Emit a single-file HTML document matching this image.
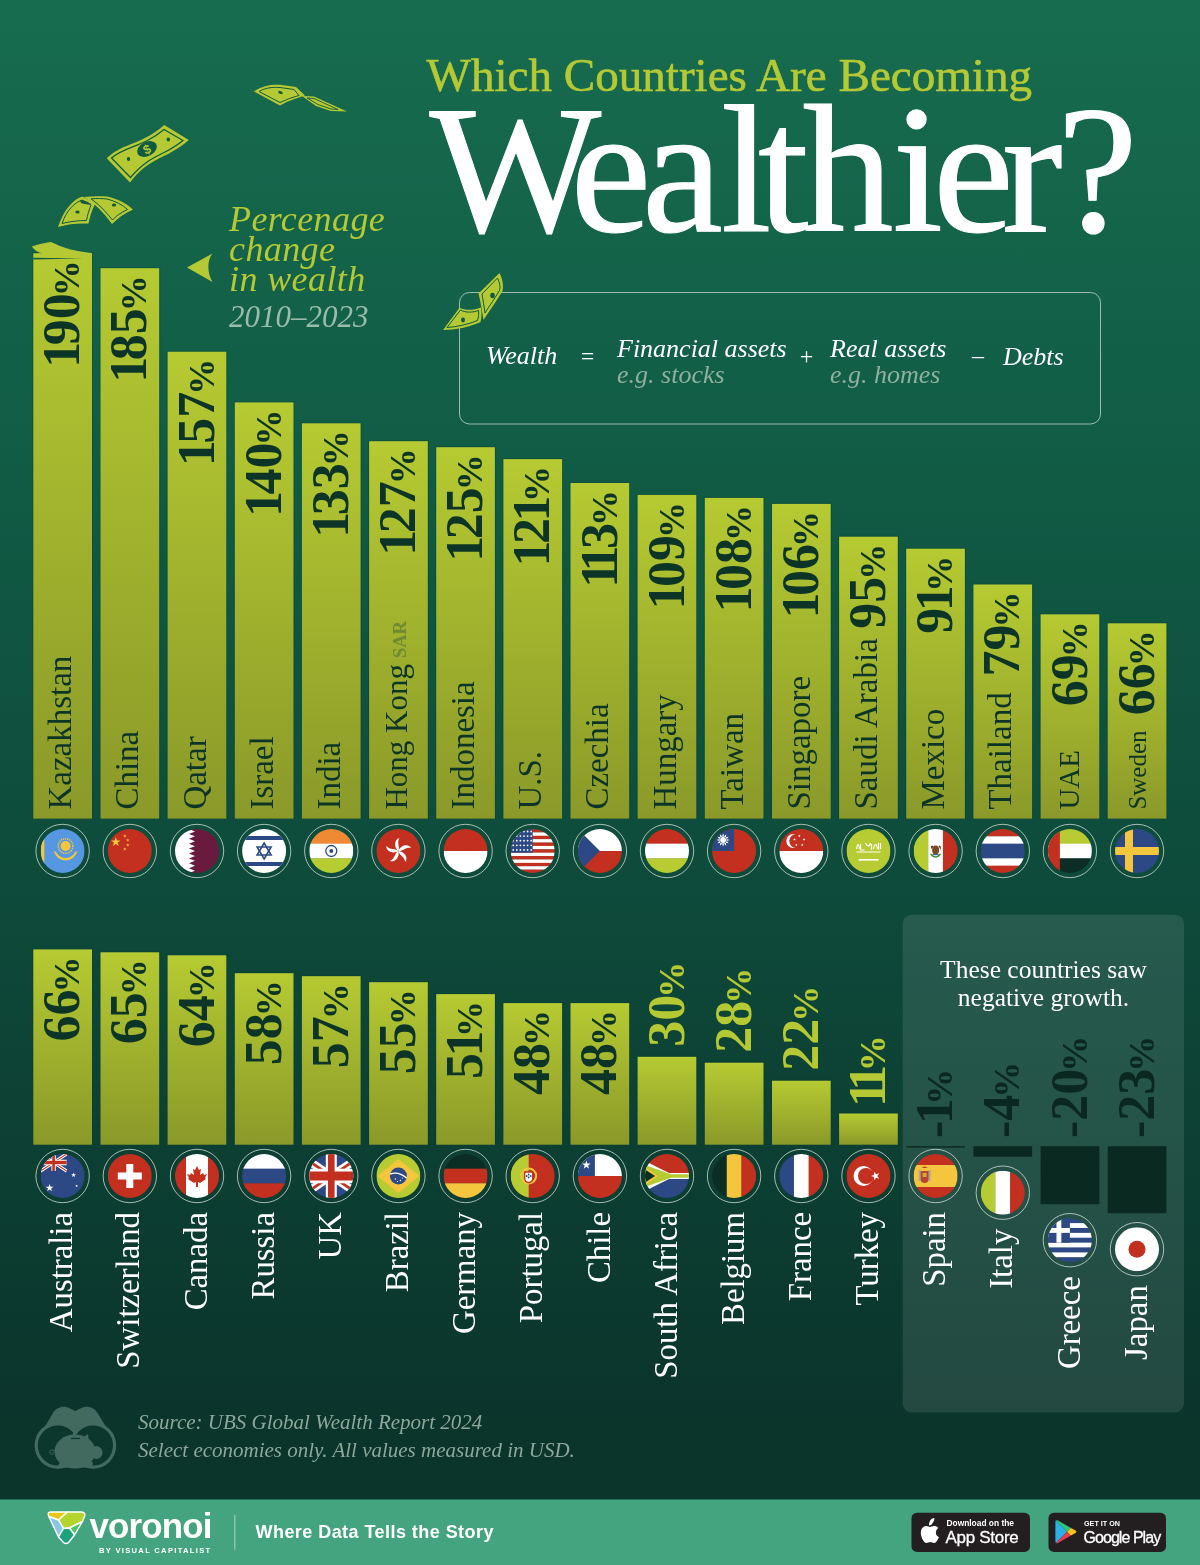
<!DOCTYPE html>
<html><head><meta charset="utf-8"><style>
html,body{margin:0;padding:0;width:1200px;height:1565px;overflow:hidden;background:#0e4b3b}
#root{position:relative;width:1200px;height:1565px}
svg{position:absolute;left:0;top:0}
.ser{font-family:"Liberation Serif",serif}
</style></head><body><div id="root">
<svg width="1200" height="1565" viewBox="0 0 1200 1565">
<rect x="0" y="0" width="1200" height="1500" fill="url(#bg)"/>
<defs>
<clipPath id="fc"><circle r="22"/></clipPath>
<linearGradient id="bar" x1="0" y1="0" x2="0" y2="1"><stop offset="0" stop-color="#b6ca32"/><stop offset="1" stop-color="#8a9929"/></linearGradient>
<linearGradient id="bg" x1="0" y1="0" x2="0" y2="1"><stop offset="0" stop-color="#176c4f"/><stop offset="0.3" stop-color="#115c45"/><stop offset="0.58" stop-color="#0e4b3b"/><stop offset="0.95" stop-color="#0b342b"/></linearGradient>
</defs>
<rect x="902.7" y="914.7" width="281.3" height="497.8" rx="9" fill="#ffffff" fill-opacity="0.1"/><text x="1043.5" y="978" text-anchor="middle" font-family="Liberation Serif, serif" font-size="25.5" fill="#fff">These countries saw</text><text x="1043.5" y="1006" text-anchor="middle" font-family="Liberation Serif, serif" font-size="25.5" fill="#fff">negative growth.</text>
<rect x="32.3" y="252.2" width="60.7" height="566.4" fill="#06402f" fill-opacity="0.35"/>
<rect x="33.3" y="253.2" width="58.7" height="565.4" fill="url(#bar)"/>
<text x="71.3" y="809.6" transform="rotate(-90 71.3 809.6)" text-anchor="start" font-family="Liberation Serif, serif" font-size="33" fill="#0c3427">Kazakhstan</text>
<text x="79.3" y="260.2" dx="0 -3.5 0" transform="rotate(-90 79.3 260.2)" text-anchor="end" font-family="Liberation Serif, serif" font-weight="bold" font-size="52" fill="#0c3427">190<tspan font-size="36" dx="-3">%</tspan></text>
<g transform="translate(62.6,851.0)"><circle r="26.7" fill="none" stroke="#d8e4dc" stroke-opacity="0.75" stroke-width="1"/><g clip-path="url(#fc)"><rect x="-22" y="-22" width="44" height="44" fill="#5597e0"/><rect x="-21.5" y="-22" width="3.2" height="44" fill="#f4c63d"/><circle cx="3" cy="-5" r="5" fill="#f4c63d"/><circle cx="3" cy="-5" r="7.3" fill="none" stroke="#f4c63d" stroke-width="1.6" stroke-dasharray="1.2 0.9"/><path d="M-9,0 Q-6,9 3,9.5 Q12,9 15,0 L12.5,1 Q10,6.5 3,7 Q-4,6.5 -6.5,1 Z" fill="#f4c63d"/></g></g>
<rect x="99.5" y="267.2" width="60.7" height="551.4" fill="#06402f" fill-opacity="0.35"/>
<rect x="100.5" y="268.2" width="58.7" height="550.4" fill="url(#bar)"/>
<text x="138.4" y="809.6" transform="rotate(-90 138.4 809.6)" text-anchor="start" font-family="Liberation Serif, serif" font-size="33" fill="#0c3427">China</text>
<text x="146.4" y="275.2" dx="0 -3.5 0" transform="rotate(-90 146.4 275.2)" text-anchor="end" font-family="Liberation Serif, serif" font-weight="bold" font-size="52" fill="#0c3427">185<tspan font-size="36" dx="-3">%</tspan></text>
<g transform="translate(129.8,851.0)"><circle r="26.7" fill="none" stroke="#d8e4dc" stroke-opacity="0.75" stroke-width="1"/><g clip-path="url(#fc)"><rect x="-22" y="-22" width="44" height="44" fill="#c4301f"/><polygon points="-14.00,-14.00 -12.82,-10.62 -9.24,-10.55 -12.10,-8.38 -11.06,-4.95 -14.00,-7.00 -16.94,-4.95 -15.90,-8.38 -18.76,-10.55 -15.18,-10.62" fill="#f4c63d"/><polygon points="-5.00,-16.80 -4.58,-15.58 -3.29,-15.56 -4.32,-14.78 -3.94,-13.54 -5.00,-14.28 -6.06,-13.54 -5.68,-14.78 -6.71,-15.56 -5.42,-15.58" fill="#f4c63d"/><polygon points="-2.00,-12.80 -1.58,-11.58 -0.29,-11.56 -1.32,-10.78 -0.94,-9.54 -2.00,-10.28 -3.06,-9.54 -2.68,-10.78 -3.71,-11.56 -2.42,-11.58" fill="#f4c63d"/><polygon points="-2.00,-7.80 -1.58,-6.58 -0.29,-6.56 -1.32,-5.78 -0.94,-4.54 -2.00,-5.28 -3.06,-4.54 -2.68,-5.78 -3.71,-6.56 -2.42,-6.58" fill="#f4c63d"/><polygon points="-5.00,-3.80 -4.58,-2.58 -3.29,-2.56 -4.32,-1.78 -3.94,-0.54 -5.00,-1.28 -6.06,-0.54 -5.68,-1.78 -6.71,-2.56 -5.42,-2.58" fill="#f4c63d"/></g></g>
<rect x="166.6" y="350.7" width="60.7" height="467.9" fill="#06402f" fill-opacity="0.35"/>
<rect x="167.6" y="351.7" width="58.7" height="466.9" fill="url(#bar)"/>
<text x="205.6" y="809.6" transform="rotate(-90 205.6 809.6)" text-anchor="start" font-family="Liberation Serif, serif" font-size="33" fill="#0c3427">Qatar</text>
<text x="213.6" y="358.7" dx="0 -3.5 0" transform="rotate(-90 213.6 358.7)" text-anchor="end" font-family="Liberation Serif, serif" font-weight="bold" font-size="52" fill="#0c3427">157<tspan font-size="36" dx="-3">%</tspan></text>
<g transform="translate(197.0,851.0)"><circle r="26.7" fill="none" stroke="#d8e4dc" stroke-opacity="0.75" stroke-width="1"/><g clip-path="url(#fc)"><rect x="-22" y="-22" width="44" height="44" fill="#6b1a3f"/><path d="M-22,-22 H-8 L-2,-19.55 L-8,-17.1 L-2,-14.650000000000002 L-8,-12.2 L-2,-9.75 L-8,-7.299999999999999 L-2,-4.849999999999999 L-8,-2.3999999999999986 L-2,0.0500000000000016 L-8,2.5 L-2,4.95 L-8,7.400000000000002 L-2,9.850000000000001 L-8,12.300000000000004 L-2,14.750000000000004 L-8,17.200000000000003 L-2,19.650000000000002 L-8,22.1 H-22 Z" fill="#ffffff"/></g></g>
<rect x="233.8" y="401.4" width="60.7" height="417.2" fill="#06402f" fill-opacity="0.35"/>
<rect x="234.8" y="402.4" width="58.7" height="416.2" fill="url(#bar)"/>
<text x="272.8" y="809.6" transform="rotate(-90 272.8 809.6)" text-anchor="start" font-family="Liberation Serif, serif" font-size="33" fill="#0c3427">Israel</text>
<text x="280.8" y="409.4" dx="0 -3.5 0" transform="rotate(-90 280.8 409.4)" text-anchor="end" font-family="Liberation Serif, serif" font-weight="bold" font-size="52" fill="#0c3427">140<tspan font-size="36" dx="-3">%</tspan></text>
<g transform="translate(264.1,851.0)"><circle r="26.7" fill="none" stroke="#d8e4dc" stroke-opacity="0.75" stroke-width="1"/><g clip-path="url(#fc)"><rect x="-22" y="-22" width="44" height="44" fill="#ffffff"/><rect x="-22" y="-15" width="44" height="4" fill="#2d4985"/><rect x="-22" y="11" width="44" height="4" fill="#2d4985"/><polygon points="0,-8 7,4 -7,4" fill="none" stroke="#2d4985" stroke-width="1.6"/><polygon points="0,8 7,-4 -7,-4" fill="none" stroke="#2d4985" stroke-width="1.6"/></g></g>
<rect x="300.9" y="422.3" width="60.7" height="396.3" fill="#06402f" fill-opacity="0.35"/>
<rect x="301.9" y="423.3" width="58.7" height="395.3" fill="url(#bar)"/>
<text x="339.9" y="809.6" transform="rotate(-90 339.9 809.6)" text-anchor="start" font-family="Liberation Serif, serif" font-size="33" fill="#0c3427">India</text>
<text x="347.9" y="430.3" dx="0 -3.5 0" transform="rotate(-90 347.9 430.3)" text-anchor="end" font-family="Liberation Serif, serif" font-weight="bold" font-size="52" fill="#0c3427">133<tspan font-size="36" dx="-3">%</tspan></text>
<g transform="translate(331.3,851.0)"><circle r="26.7" fill="none" stroke="#d8e4dc" stroke-opacity="0.75" stroke-width="1"/><g clip-path="url(#fc)"><rect x="-22" y="-22.0" width="44" height="14.966666666666667" fill="#ef8933"/><rect x="-22" y="-7.333333333333334" width="44" height="14.966666666666667" fill="#ffffff"/><rect x="-22" y="7.333333333333332" width="44" height="14.966666666666667" fill="#b7cb33"/><circle cx="0" cy="0" r="5.5" fill="none" stroke="#2d4985" stroke-width="1.3"/><circle cx="0" cy="0" r="2" fill="#2d4985"/></g></g>
<rect x="368.1" y="440.2" width="60.7" height="378.4" fill="#06402f" fill-opacity="0.35"/>
<rect x="369.1" y="441.2" width="58.7" height="377.4" fill="url(#bar)"/>
<text x="407.1" y="809.6" transform="rotate(-90 407.1 809.6)" text-anchor="start" font-family="Liberation Serif, serif" font-size="31" fill="#0c3427">Hong Kong<tspan font-size="18.5" font-weight="bold" dx="6" fill="#6e8a32" dy="-1">SAR</tspan></text>
<text x="415.1" y="448.2" dx="0 -3.5 0" transform="rotate(-90 415.1 448.2)" text-anchor="end" font-family="Liberation Serif, serif" font-weight="bold" font-size="52" fill="#0c3427">127<tspan font-size="36" dx="-3">%</tspan></text>
<g transform="translate(398.4,851.0)"><circle r="26.7" fill="none" stroke="#d8e4dc" stroke-opacity="0.75" stroke-width="1"/><g clip-path="url(#fc)"><rect x="-22" y="-22" width="44" height="44" fill="#c4301f"/><g transform="rotate(0)"><path d="M0,0 C-5,-4 -4,-12 1,-13 C-2,-8 2,-4 0,0 Z" fill="#fff"/></g><g transform="rotate(72)"><path d="M0,0 C-5,-4 -4,-12 1,-13 C-2,-8 2,-4 0,0 Z" fill="#fff"/></g><g transform="rotate(144)"><path d="M0,0 C-5,-4 -4,-12 1,-13 C-2,-8 2,-4 0,0 Z" fill="#fff"/></g><g transform="rotate(216)"><path d="M0,0 C-5,-4 -4,-12 1,-13 C-2,-8 2,-4 0,0 Z" fill="#fff"/></g><g transform="rotate(288)"><path d="M0,0 C-5,-4 -4,-12 1,-13 C-2,-8 2,-4 0,0 Z" fill="#fff"/></g></g></g>
<rect x="435.2" y="446.2" width="60.7" height="372.4" fill="#06402f" fill-opacity="0.35"/>
<rect x="436.2" y="447.2" width="58.7" height="371.4" fill="url(#bar)"/>
<text x="474.2" y="809.6" transform="rotate(-90 474.2 809.6)" text-anchor="start" font-family="Liberation Serif, serif" font-size="33" fill="#0c3427">Indonesia</text>
<text x="482.2" y="454.2" dx="0 -3.5 0" transform="rotate(-90 482.2 454.2)" text-anchor="end" font-family="Liberation Serif, serif" font-weight="bold" font-size="52" fill="#0c3427">125<tspan font-size="36" dx="-3">%</tspan></text>
<g transform="translate(465.6,851.0)"><circle r="26.7" fill="none" stroke="#d8e4dc" stroke-opacity="0.75" stroke-width="1"/><g clip-path="url(#fc)"><rect x="-22" y="-22.0" width="44" height="22.3" fill="#c4301f"/><rect x="-22" y="0.0" width="44" height="22.3" fill="#ffffff"/></g></g>
<rect x="502.4" y="458.1" width="60.7" height="360.5" fill="#06402f" fill-opacity="0.35"/>
<rect x="503.4" y="459.1" width="58.7" height="359.5" fill="url(#bar)"/>
<text x="541.4" y="809.6" transform="rotate(-90 541.4 809.6)" text-anchor="start" font-family="Liberation Serif, serif" font-size="33" fill="#0c3427">U.S.</text>
<text x="549.4" y="466.1" dx="0 -3.5 -3.5" transform="rotate(-90 549.4 466.1)" text-anchor="end" font-family="Liberation Serif, serif" font-weight="bold" font-size="52" fill="#0c3427">121<tspan font-size="36" dx="-6.5">%</tspan></text>
<g transform="translate(532.7,851.0)"><circle r="26.7" fill="none" stroke="#d8e4dc" stroke-opacity="0.75" stroke-width="1"/><g clip-path="url(#fc)"><rect x="-22" y="-22.0" width="44" height="3.5846153846153848" fill="#c4301f"/><rect x="-22" y="-18.615384615384617" width="44" height="3.5846153846153848" fill="#ffffff"/><rect x="-22" y="-15.23076923076923" width="44" height="3.5846153846153848" fill="#c4301f"/><rect x="-22" y="-11.846153846153847" width="44" height="3.5846153846153848" fill="#ffffff"/><rect x="-22" y="-8.461538461538462" width="44" height="3.5846153846153848" fill="#c4301f"/><rect x="-22" y="-5.076923076923077" width="44" height="3.5846153846153848" fill="#ffffff"/><rect x="-22" y="-1.6923076923076934" width="44" height="3.5846153846153848" fill="#c4301f"/><rect x="-22" y="1.6923076923076934" width="44" height="3.5846153846153848" fill="#ffffff"/><rect x="-22" y="5.076923076923077" width="44" height="3.5846153846153848" fill="#c4301f"/><rect x="-22" y="8.46153846153846" width="44" height="3.5846153846153848" fill="#ffffff"/><rect x="-22" y="11.846153846153847" width="44" height="3.5846153846153848" fill="#c4301f"/><rect x="-22" y="15.230769230769234" width="44" height="3.5846153846153848" fill="#ffffff"/><rect x="-22" y="18.615384615384613" width="44" height="3.5846153846153848" fill="#c4301f"/><rect x="-22" y="-22" width="22" height="23.692307692307693" fill="#2d4985"/><circle cx="-19.5" cy="-19.5" r="0.9" fill="#fff"/><circle cx="-15.9" cy="-19.5" r="0.9" fill="#fff"/><circle cx="-12.3" cy="-19.5" r="0.9" fill="#fff"/><circle cx="-8.7" cy="-19.5" r="0.9" fill="#fff"/><circle cx="-5.1" cy="-19.5" r="0.9" fill="#fff"/><circle cx="-1.5" cy="-19.5" r="0.9" fill="#fff"/><circle cx="-19.5" cy="-14.9" r="0.9" fill="#fff"/><circle cx="-15.9" cy="-14.9" r="0.9" fill="#fff"/><circle cx="-12.3" cy="-14.9" r="0.9" fill="#fff"/><circle cx="-8.7" cy="-14.9" r="0.9" fill="#fff"/><circle cx="-5.1" cy="-14.9" r="0.9" fill="#fff"/><circle cx="-1.5" cy="-14.9" r="0.9" fill="#fff"/><circle cx="-19.5" cy="-10.3" r="0.9" fill="#fff"/><circle cx="-15.9" cy="-10.3" r="0.9" fill="#fff"/><circle cx="-12.3" cy="-10.3" r="0.9" fill="#fff"/><circle cx="-8.7" cy="-10.3" r="0.9" fill="#fff"/><circle cx="-5.1" cy="-10.3" r="0.9" fill="#fff"/><circle cx="-1.5" cy="-10.3" r="0.9" fill="#fff"/><circle cx="-19.5" cy="-5.700000000000001" r="0.9" fill="#fff"/><circle cx="-15.9" cy="-5.700000000000001" r="0.9" fill="#fff"/><circle cx="-12.3" cy="-5.700000000000001" r="0.9" fill="#fff"/><circle cx="-8.7" cy="-5.700000000000001" r="0.9" fill="#fff"/><circle cx="-5.1" cy="-5.700000000000001" r="0.9" fill="#fff"/><circle cx="-1.5" cy="-5.700000000000001" r="0.9" fill="#fff"/><circle cx="-19.5" cy="-1.1000000000000014" r="0.9" fill="#fff"/><circle cx="-15.9" cy="-1.1000000000000014" r="0.9" fill="#fff"/><circle cx="-12.3" cy="-1.1000000000000014" r="0.9" fill="#fff"/><circle cx="-8.7" cy="-1.1000000000000014" r="0.9" fill="#fff"/><circle cx="-5.1" cy="-1.1000000000000014" r="0.9" fill="#fff"/><circle cx="-1.5" cy="-1.1000000000000014" r="0.9" fill="#fff"/></g></g>
<rect x="569.5" y="482.0" width="60.7" height="336.6" fill="#06402f" fill-opacity="0.35"/>
<rect x="570.5" y="483.0" width="58.7" height="335.6" fill="url(#bar)"/>
<text x="608.5" y="809.6" transform="rotate(-90 608.5 809.6)" text-anchor="start" font-family="Liberation Serif, serif" font-size="33" fill="#0c3427">Czechia</text>
<text x="616.5" y="490.0" dx="0 -7.0 -3.5" transform="rotate(-90 616.5 490.0)" text-anchor="end" font-family="Liberation Serif, serif" font-weight="bold" font-size="52" fill="#0c3427">113<tspan font-size="36" dx="-3">%</tspan></text>
<g transform="translate(599.9,851.0)"><circle r="26.7" fill="none" stroke="#d8e4dc" stroke-opacity="0.75" stroke-width="1"/><g clip-path="url(#fc)"><rect x="-22" y="-22.0" width="44" height="22.3" fill="#ffffff"/><rect x="-22" y="0.0" width="44" height="22.3" fill="#c4301f"/><polygon points="-22,-22 0,0 -22,22" fill="#2d4985"/></g></g>
<rect x="636.6" y="493.9" width="60.7" height="324.7" fill="#06402f" fill-opacity="0.35"/>
<rect x="637.6" y="494.9" width="58.7" height="323.7" fill="url(#bar)"/>
<text x="675.6" y="809.6" transform="rotate(-90 675.6 809.6)" text-anchor="start" font-family="Liberation Serif, serif" font-size="33" fill="#0c3427">Hungary</text>
<text x="683.6" y="501.9" dx="0 -3.5 0" transform="rotate(-90 683.6 501.9)" text-anchor="end" font-family="Liberation Serif, serif" font-weight="bold" font-size="52" fill="#0c3427">109<tspan font-size="36" dx="-3">%</tspan></text>
<g transform="translate(667.0,851.0)"><circle r="26.7" fill="none" stroke="#d8e4dc" stroke-opacity="0.75" stroke-width="1"/><g clip-path="url(#fc)"><rect x="-22" y="-22.0" width="44" height="14.966666666666667" fill="#c4301f"/><rect x="-22" y="-7.333333333333334" width="44" height="14.966666666666667" fill="#ffffff"/><rect x="-22" y="7.333333333333332" width="44" height="14.966666666666667" fill="#b7cb33"/></g></g>
<rect x="703.8" y="496.9" width="60.7" height="321.7" fill="#06402f" fill-opacity="0.35"/>
<rect x="704.8" y="497.9" width="58.7" height="320.7" fill="url(#bar)"/>
<text x="742.8" y="809.6" transform="rotate(-90 742.8 809.6)" text-anchor="start" font-family="Liberation Serif, serif" font-size="33" fill="#0c3427">Taiwan</text>
<text x="750.8" y="504.9" dx="0 -3.5 0" transform="rotate(-90 750.8 504.9)" text-anchor="end" font-family="Liberation Serif, serif" font-weight="bold" font-size="52" fill="#0c3427">108<tspan font-size="36" dx="-3">%</tspan></text>
<g transform="translate(734.1,851.0)"><circle r="26.7" fill="none" stroke="#d8e4dc" stroke-opacity="0.75" stroke-width="1"/><g clip-path="url(#fc)"><rect x="-22" y="-22" width="44" height="44" fill="#c4301f"/><rect x="-22" y="-22" width="22" height="22" fill="#2d4985"/><polygon points="-4.50,-11.00 -7.33,-10.02 -5.37,-7.75 -8.31,-8.31 -7.75,-5.37 -10.02,-7.33 -11.00,-4.50 -11.98,-7.33 -14.25,-5.37 -13.69,-8.31 -16.63,-7.75 -14.67,-10.02 -17.50,-11.00 -14.67,-11.98 -16.63,-14.25 -13.69,-13.69 -14.25,-16.63 -11.98,-14.67 -11.00,-17.50 -10.02,-14.67 -7.75,-16.63 -8.31,-13.69 -5.37,-14.25 -7.33,-11.98" fill="#ffffff"/><circle cx="-11" cy="-11" r="3.6" fill="#2d4985"/><circle cx="-11" cy="-11" r="2.9" fill="#ffffff"/></g></g>
<rect x="771.0" y="502.9" width="60.7" height="315.7" fill="#06402f" fill-opacity="0.35"/>
<rect x="772.0" y="503.9" width="58.7" height="314.7" fill="url(#bar)"/>
<text x="810.0" y="809.6" transform="rotate(-90 810.0 809.6)" text-anchor="start" font-family="Liberation Serif, serif" font-size="33" fill="#0c3427">Singapore</text>
<text x="818.0" y="510.9" dx="0 -3.5 0" transform="rotate(-90 818.0 510.9)" text-anchor="end" font-family="Liberation Serif, serif" font-weight="bold" font-size="52" fill="#0c3427">106<tspan font-size="36" dx="-3">%</tspan></text>
<g transform="translate(801.3,851.0)"><circle r="26.7" fill="none" stroke="#d8e4dc" stroke-opacity="0.75" stroke-width="1"/><g clip-path="url(#fc)"><rect x="-22" y="-22.0" width="44" height="22.3" fill="#c4301f"/><rect x="-22" y="0.0" width="44" height="22.3" fill="#ffffff"/><circle cx="-8" cy="-10" r="7" fill="#ffffff"/><circle cx="-5" cy="-10" r="7" fill="#c4301f"/><polygon points="-2.00,-16.40 -1.67,-15.45 -0.67,-15.43 -1.47,-14.83 -1.18,-13.87 -2.00,-14.44 -2.82,-13.87 -2.53,-14.83 -3.33,-15.43 -2.33,-15.45" fill="#ffffff"/><polygon points="2.76,-12.95 3.08,-12.00 4.09,-11.98 3.29,-11.37 3.58,-10.41 2.76,-10.99 1.93,-10.41 2.22,-11.37 1.42,-11.98 2.43,-12.00" fill="#ffffff"/><polygon points="0.94,-7.35 1.27,-6.41 2.27,-6.39 1.47,-5.78 1.76,-4.82 0.94,-5.39 0.12,-4.82 0.41,-5.78 -0.39,-6.39 0.61,-6.41" fill="#ffffff"/><polygon points="-4.94,-7.35 -4.61,-6.41 -3.61,-6.39 -4.41,-5.78 -4.12,-4.82 -4.94,-5.39 -5.76,-4.82 -5.47,-5.78 -6.27,-6.39 -5.27,-6.41" fill="#ffffff"/><polygon points="-6.76,-12.95 -6.43,-12.00 -5.42,-11.98 -6.22,-11.37 -5.93,-10.41 -6.76,-10.99 -7.58,-10.41 -7.29,-11.37 -8.09,-11.98 -7.08,-12.00" fill="#ffffff"/></g></g>
<rect x="838.1" y="535.7" width="60.7" height="282.9" fill="#06402f" fill-opacity="0.35"/>
<rect x="839.1" y="536.7" width="58.7" height="281.9" fill="url(#bar)"/>
<text x="877.1" y="809.6" transform="rotate(-90 877.1 809.6)" text-anchor="start" font-family="Liberation Serif, serif" font-size="33" fill="#0c3427">Saudi Arabia</text>
<text x="885.1" y="543.7" dx="0 0" transform="rotate(-90 885.1 543.7)" text-anchor="end" font-family="Liberation Serif, serif" font-weight="bold" font-size="52" fill="#0c3427">95<tspan font-size="36" dx="-3">%</tspan></text>
<g transform="translate(868.5,851.0)"><circle r="26.7" fill="none" stroke="#d8e4dc" stroke-opacity="0.75" stroke-width="1"/><g clip-path="url(#fc)"><rect x="-22" y="-22" width="44" height="44" fill="#b7cb33"/><path d="M-12,-2 C-11,-8 -10,-8 -9,-2 M-8,-7 L-8,-1 L-4,-1 M-3,-8 C-1,-4 1,-4 2,-8 M3,-1 L3,-7 M5,-2 C6,-8 8,-8 9,-2 M10,-8 L10,-1 M12,-8 L12,-2 M-12,1 L12,1" stroke="#fff" stroke-width="1.2" fill="none"/><rect x="-10" y="8" width="20" height="1.6" fill="#ffffff"/></g></g>
<rect x="905.2" y="547.7" width="60.7" height="270.9" fill="#06402f" fill-opacity="0.35"/>
<rect x="906.2" y="548.7" width="58.7" height="269.9" fill="url(#bar)"/>
<text x="944.2" y="809.6" transform="rotate(-90 944.2 809.6)" text-anchor="start" font-family="Liberation Serif, serif" font-size="33" fill="#0c3427">Mexico</text>
<text x="952.2" y="555.7" dx="0 -3.5" transform="rotate(-90 952.2 555.7)" text-anchor="end" font-family="Liberation Serif, serif" font-weight="bold" font-size="52" fill="#0c3427">91<tspan font-size="36" dx="-6.5">%</tspan></text>
<g transform="translate(935.6,851.0)"><circle r="26.7" fill="none" stroke="#d8e4dc" stroke-opacity="0.75" stroke-width="1"/><g clip-path="url(#fc)"><rect x="-22.0" y="-22" width="14.966666666666667" height="44" fill="#b7cb33"/><rect x="-7.333333333333334" y="-22" width="14.966666666666667" height="44" fill="#ffffff"/><rect x="7.333333333333332" y="-22" width="14.966666666666667" height="44" fill="#c4301f"/><path d="M-5,3 Q0,9 5,3" fill="none" stroke="#3a8a3a" stroke-width="1.5"/><ellipse cx="0" cy="-1" rx="3.5" ry="4.5" fill="#7a4a22"/><path d="M-4,-2 Q-6,-6 -2,-5 Z M3,-5 Q6,-6 5,-1 Z" fill="#5a3518"/><rect x="-3" y="3" width="6" height="1.2" fill="#3a6aa0"/></g></g>
<rect x="972.4" y="583.5" width="60.7" height="235.1" fill="#06402f" fill-opacity="0.35"/>
<rect x="973.4" y="584.5" width="58.7" height="234.1" fill="url(#bar)"/>
<text x="1011.4" y="809.6" transform="rotate(-90 1011.4 809.6)" text-anchor="start" font-family="Liberation Serif, serif" font-size="33" fill="#0c3427">Thailand</text>
<text x="1019.4" y="591.5" dx="0 0" transform="rotate(-90 1019.4 591.5)" text-anchor="end" font-family="Liberation Serif, serif" font-weight="bold" font-size="52" fill="#0c3427">79<tspan font-size="36" dx="-3">%</tspan></text>
<g transform="translate(1002.8,851.0)"><circle r="26.7" fill="none" stroke="#d8e4dc" stroke-opacity="0.75" stroke-width="1"/><g clip-path="url(#fc)"><rect x="-22" y="-22.0" width="44" height="7.633333333333333" fill="#c4301f"/><rect x="-22" y="-14.666666666666668" width="44" height="7.633333333333333" fill="#ffffff"/><rect x="-22" y="-7.333333333333334" width="44" height="7.633333333333333" fill="#2d4985"/><rect x="-22" y="0.0" width="44" height="7.633333333333333" fill="#2d4985"/><rect x="-22" y="7.333333333333332" width="44" height="7.633333333333333" fill="#ffffff"/><rect x="-22" y="14.666666666666664" width="44" height="7.633333333333333" fill="#c4301f"/></g></g>
<rect x="1039.6" y="613.3" width="60.7" height="205.3" fill="#06402f" fill-opacity="0.35"/>
<rect x="1040.6" y="614.3" width="58.7" height="204.3" fill="url(#bar)"/>
<text x="1078.6" y="809.6" transform="rotate(-90 1078.6 809.6)" text-anchor="start" font-family="Liberation Serif, serif" font-size="29" fill="#0c3427">UAE</text>
<text x="1086.6" y="621.3" dx="0 0" transform="rotate(-90 1086.6 621.3)" text-anchor="end" font-family="Liberation Serif, serif" font-weight="bold" font-size="52" fill="#0c3427">69<tspan font-size="36" dx="-3">%</tspan></text>
<g transform="translate(1069.9,851.0)"><circle r="26.7" fill="none" stroke="#d8e4dc" stroke-opacity="0.75" stroke-width="1"/><g clip-path="url(#fc)"><rect x="-22" y="-22.0" width="44" height="14.966666666666667" fill="#b7cb33"/><rect x="-22" y="-7.333333333333334" width="44" height="14.966666666666667" fill="#ffffff"/><rect x="-22" y="7.333333333333332" width="44" height="14.966666666666667" fill="#0b2d24"/><rect x="-22" y="-22" width="12" height="44" fill="#c4301f"/></g></g>
<rect x="1106.7" y="622.3" width="60.7" height="196.3" fill="#06402f" fill-opacity="0.35"/>
<rect x="1107.7" y="623.3" width="58.7" height="195.3" fill="url(#bar)"/>
<text x="1145.7" y="809.6" transform="rotate(-90 1145.7 809.6)" text-anchor="start" font-family="Liberation Serif, serif" font-size="25" fill="#0c3427">Sweden</text>
<text x="1153.7" y="630.3" dx="0 0" transform="rotate(-90 1153.7 630.3)" text-anchor="end" font-family="Liberation Serif, serif" font-weight="bold" font-size="52" fill="#0c3427">66<tspan font-size="36" dx="-3">%</tspan></text>
<g transform="translate(1137.0,851.0)"><circle r="26.7" fill="none" stroke="#d8e4dc" stroke-opacity="0.75" stroke-width="1"/><g clip-path="url(#fc)"><rect x="-22" y="-22" width="44" height="44" fill="#2d4985"/><rect x="-22" y="-4" width="44" height="8" fill="#f4c63d"/><rect x="-12" y="-22" width="8" height="44" fill="#f4c63d"/></g></g>
<rect x="32.3" y="948.4" width="60.7" height="196.3" fill="#06402f" fill-opacity="0.35"/>
<rect x="33.3" y="949.4" width="58.7" height="195.3" fill="url(#bar)"/>
<text x="79.3" y="956.4" dx="0 0" transform="rotate(-90 79.3 956.4)" text-anchor="end" font-family="Liberation Serif, serif" font-weight="bold" font-size="52" fill="#0c3427">66<tspan font-size="36" dx="-3">%</tspan></text>
<g transform="translate(62.6,1176.0)"><circle r="26.7" fill="none" stroke="#d8e4dc" stroke-opacity="0.75" stroke-width="1"/><g clip-path="url(#fc)"><rect x="-22" y="-22" width="44" height="44" fill="#2d4985"/><g transform="translate(-22,-22) scale(0.43333333333333335,0.5666666666666667)"><rect x="0" y="0" width="60" height="30" fill="#2d4985"/><path d="M0,0 L60,30 M60,0 L0,30" stroke="#ffffff" stroke-width="6"/><path d="M0,0 L60,30 M60,0 L0,30" stroke="#c4301f" stroke-width="2"/><path d="M30,0 V30 M0,15 H60" stroke="#ffffff" stroke-width="10"/><path d="M30,0 V30 M0,15 H60" stroke="#c4301f" stroke-width="6"/></g><polygon points="-13.00,8.00 -12.06,10.71 -9.20,10.76 -11.48,12.49 -10.65,15.24 -13.00,13.60 -15.35,15.24 -14.52,12.49 -16.80,10.76 -13.94,10.71" fill="#ffffff"/><polygon points="11.00,-3.60 11.61,-1.84 13.47,-1.80 11.99,-0.68 12.53,1.10 11.00,0.04 9.47,1.10 10.01,-0.68 8.53,-1.80 10.39,-1.84" fill="#ffffff"/><polygon points="14.00,8.50 14.35,9.51 15.43,9.54 14.57,10.19 14.88,11.21 14.00,10.60 13.12,11.21 13.43,10.19 12.57,9.54 13.65,9.51" fill="#ffffff"/></g></g>
<text x="72.3" y="1212.0" transform="rotate(-90 72.3 1212.0)" text-anchor="end" font-family="Liberation Serif, serif" font-size="32.8" fill="#ffffff">Australia</text>
<rect x="99.5" y="951.3" width="60.7" height="193.4" fill="#06402f" fill-opacity="0.35"/>
<rect x="100.5" y="952.3" width="58.7" height="192.4" fill="url(#bar)"/>
<text x="146.4" y="959.3" dx="0 0" transform="rotate(-90 146.4 959.3)" text-anchor="end" font-family="Liberation Serif, serif" font-weight="bold" font-size="52" fill="#0c3427">65<tspan font-size="36" dx="-3">%</tspan></text>
<g transform="translate(129.8,1176.0)"><circle r="26.7" fill="none" stroke="#d8e4dc" stroke-opacity="0.75" stroke-width="1"/><g clip-path="url(#fc)"><rect x="-22" y="-22" width="44" height="44" fill="#c4301f"/><rect x="-3.5" y="-12" width="7" height="24" fill="#ffffff"/><rect x="-12" y="-3.5" width="24" height="7" fill="#ffffff"/></g></g>
<text x="139.4" y="1212.0" transform="rotate(-90 139.4 1212.0)" text-anchor="end" font-family="Liberation Serif, serif" font-size="32.8" fill="#ffffff">Switzerland</text>
<rect x="166.6" y="954.3" width="60.7" height="190.4" fill="#06402f" fill-opacity="0.35"/>
<rect x="167.6" y="955.3" width="58.7" height="189.4" fill="url(#bar)"/>
<text x="213.6" y="962.3" dx="0 0" transform="rotate(-90 213.6 962.3)" text-anchor="end" font-family="Liberation Serif, serif" font-weight="bold" font-size="52" fill="#0c3427">64<tspan font-size="36" dx="-3">%</tspan></text>
<g transform="translate(197.0,1176.0)"><circle r="26.7" fill="none" stroke="#d8e4dc" stroke-opacity="0.75" stroke-width="1"/><g clip-path="url(#fc)"><rect x="-22.0" y="-22" width="11.3" height="44" fill="#c4301f"/><rect x="-11.0" y="-22" width="11.3" height="44" fill="#ffffff"/><rect x="0.0" y="-22" width="11.3" height="44" fill="#ffffff"/><rect x="11.0" y="-22" width="11.3" height="44" fill="#c4301f"/><path d="M0,-10 L2,-6 L4,-7 L3,-1 L6,-3 L7,-1 L10,-2 L8,2 L9,3 L3,7 L1,6 L1,11 L-1,11 L-1,6 L-3,7 L-9,3 L-8,2 L-10,-2 L-7,-1 L-6,-3 L-3,-1 L-4,-7 L-2,-6 Z" fill="#c4301f"/></g></g>
<text x="206.6" y="1212.0" transform="rotate(-90 206.6 1212.0)" text-anchor="end" font-family="Liberation Serif, serif" font-size="32.8" fill="#ffffff">Canada</text>
<rect x="233.8" y="972.2" width="60.7" height="172.5" fill="#06402f" fill-opacity="0.35"/>
<rect x="234.8" y="973.2" width="58.7" height="171.5" fill="url(#bar)"/>
<text x="280.8" y="980.2" dx="0 0" transform="rotate(-90 280.8 980.2)" text-anchor="end" font-family="Liberation Serif, serif" font-weight="bold" font-size="52" fill="#0c3427">58<tspan font-size="36" dx="-3">%</tspan></text>
<g transform="translate(264.1,1176.0)"><circle r="26.7" fill="none" stroke="#d8e4dc" stroke-opacity="0.75" stroke-width="1"/><g clip-path="url(#fc)"><rect x="-22" y="-22.0" width="44" height="14.966666666666667" fill="#ffffff"/><rect x="-22" y="-7.333333333333334" width="44" height="14.966666666666667" fill="#2d4985"/><rect x="-22" y="7.333333333333332" width="44" height="14.966666666666667" fill="#c4301f"/></g></g>
<text x="273.8" y="1212.0" transform="rotate(-90 273.8 1212.0)" text-anchor="end" font-family="Liberation Serif, serif" font-size="32.8" fill="#ffffff">Russia</text>
<rect x="300.9" y="975.2" width="60.7" height="169.5" fill="#06402f" fill-opacity="0.35"/>
<rect x="301.9" y="976.2" width="58.7" height="168.5" fill="url(#bar)"/>
<text x="347.9" y="983.2" dx="0 0" transform="rotate(-90 347.9 983.2)" text-anchor="end" font-family="Liberation Serif, serif" font-weight="bold" font-size="52" fill="#0c3427">57<tspan font-size="36" dx="-3">%</tspan></text>
<g transform="translate(331.3,1176.0)"><circle r="26.7" fill="none" stroke="#d8e4dc" stroke-opacity="0.75" stroke-width="1"/><g clip-path="url(#fc)"><g transform="translate(-33,-22) scale(1.1,1.4666666666666666)"><rect x="0" y="0" width="60" height="30" fill="#2d4985"/><path d="M0,0 L60,30 M60,0 L0,30" stroke="#ffffff" stroke-width="6"/><path d="M0,0 L60,30 M60,0 L0,30" stroke="#c4301f" stroke-width="2"/><path d="M30,0 V30 M0,15 H60" stroke="#ffffff" stroke-width="10"/><path d="M30,0 V30 M0,15 H60" stroke="#c4301f" stroke-width="6"/></g></g></g>
<text x="340.9" y="1212.0" transform="rotate(-90 340.9 1212.0)" text-anchor="end" font-family="Liberation Serif, serif" font-size="32.8" fill="#ffffff">UK</text>
<rect x="368.1" y="981.2" width="60.7" height="163.5" fill="#06402f" fill-opacity="0.35"/>
<rect x="369.1" y="982.2" width="58.7" height="162.5" fill="url(#bar)"/>
<text x="415.1" y="989.2" dx="0 0" transform="rotate(-90 415.1 989.2)" text-anchor="end" font-family="Liberation Serif, serif" font-weight="bold" font-size="52" fill="#0c3427">55<tspan font-size="36" dx="-3">%</tspan></text>
<g transform="translate(398.4,1176.0)"><circle r="26.7" fill="none" stroke="#d8e4dc" stroke-opacity="0.75" stroke-width="1"/><g clip-path="url(#fc)"><rect x="-22" y="-22" width="44" height="44" fill="#b7cb33"/><polygon points="0,-17 21,0 0,17 -21,0" fill="#f4c63d"/><circle cx="0" cy="0" r="8.5" fill="#2d4985"/><path d="M-8.3,-2 Q0,-5 8.2,2" stroke="#fff" stroke-width="1.4" fill="none"/><circle cx="-3" cy="3" r="0.7" fill="#fff"/><circle cx="2" cy="4.5" r="0.7" fill="#fff"/><circle cx="4" cy="2" r="0.6" fill="#fff"/><circle cx="-1" cy="5.5" r="0.6" fill="#fff"/></g></g>
<text x="408.1" y="1212.0" transform="rotate(-90 408.1 1212.0)" text-anchor="end" font-family="Liberation Serif, serif" font-size="32.8" fill="#ffffff">Brazil</text>
<rect x="435.2" y="993.1" width="60.7" height="151.6" fill="#06402f" fill-opacity="0.35"/>
<rect x="436.2" y="994.1" width="58.7" height="150.6" fill="url(#bar)"/>
<text x="482.2" y="1001.1" dx="0 -3.5" transform="rotate(-90 482.2 1001.1)" text-anchor="end" font-family="Liberation Serif, serif" font-weight="bold" font-size="52" fill="#0c3427">51<tspan font-size="36" dx="-6.5">%</tspan></text>
<g transform="translate(465.6,1176.0)"><circle r="26.7" fill="none" stroke="#d8e4dc" stroke-opacity="0.75" stroke-width="1"/><g clip-path="url(#fc)"><rect x="-22" y="-22.0" width="44" height="14.966666666666667" fill="#0b2d24"/><rect x="-22" y="-7.333333333333334" width="44" height="14.966666666666667" fill="#c4301f"/><rect x="-22" y="7.333333333333332" width="44" height="14.966666666666667" fill="#f4c63d"/></g></g>
<text x="475.2" y="1212.0" transform="rotate(-90 475.2 1212.0)" text-anchor="end" font-family="Liberation Serif, serif" font-size="32.8" fill="#ffffff">Germany</text>
<rect x="502.4" y="1002.1" width="60.7" height="142.6" fill="#06402f" fill-opacity="0.35"/>
<rect x="503.4" y="1003.1" width="58.7" height="141.6" fill="url(#bar)"/>
<text x="549.4" y="1010.1" dx="0 0" transform="rotate(-90 549.4 1010.1)" text-anchor="end" font-family="Liberation Serif, serif" font-weight="bold" font-size="52" fill="#0c3427">48<tspan font-size="36" dx="-3">%</tspan></text>
<g transform="translate(532.7,1176.0)"><circle r="26.7" fill="none" stroke="#d8e4dc" stroke-opacity="0.75" stroke-width="1"/><g clip-path="url(#fc)"><rect x="-22" y="-22" width="44" height="44" fill="#c4301f"/><rect x="-22" y="-22" width="18" height="44" fill="#b7cb33"/><circle cx="-4" cy="0" r="7.5" fill="none" stroke="#f4c63d" stroke-width="2"/><path d="M-8,-4 H0 V2 C0,5 -2,6.5 -4,6.5 C-6,6.5 -8,5 -8,2 Z" fill="#fff" stroke="#c4301f" stroke-width="1.3"/><circle cx="-4" cy="-1.5" r="0.9" fill="#2d4985"/><circle cx="-4" cy="1.5" r="0.9" fill="#2d4985"/><circle cx="-6" cy="0" r="0.9" fill="#2d4985"/><circle cx="-2" cy="0" r="0.9" fill="#2d4985"/></g></g>
<text x="542.4" y="1212.0" transform="rotate(-90 542.4 1212.0)" text-anchor="end" font-family="Liberation Serif, serif" font-size="32.8" fill="#ffffff">Portugal</text>
<rect x="569.5" y="1002.1" width="60.7" height="142.6" fill="#06402f" fill-opacity="0.35"/>
<rect x="570.5" y="1003.1" width="58.7" height="141.6" fill="url(#bar)"/>
<text x="616.5" y="1010.1" dx="0 0" transform="rotate(-90 616.5 1010.1)" text-anchor="end" font-family="Liberation Serif, serif" font-weight="bold" font-size="52" fill="#0c3427">48<tspan font-size="36" dx="-3">%</tspan></text>
<g transform="translate(599.9,1176.0)"><circle r="26.7" fill="none" stroke="#d8e4dc" stroke-opacity="0.75" stroke-width="1"/><g clip-path="url(#fc)"><rect x="-22" y="-22.0" width="44" height="22.3" fill="#ffffff"/><rect x="-22" y="0.0" width="44" height="22.3" fill="#c4301f"/><rect x="-22" y="-22" width="17" height="22" fill="#2d4985"/><polygon points="-13.50,-15.50 -12.44,-12.46 -9.22,-12.39 -11.79,-10.44 -10.85,-7.36 -13.50,-9.20 -16.15,-7.36 -15.21,-10.44 -17.78,-12.39 -14.56,-12.46" fill="#ffffff"/></g></g>
<text x="609.5" y="1212.0" transform="rotate(-90 609.5 1212.0)" text-anchor="end" font-family="Liberation Serif, serif" font-size="32.8" fill="#ffffff">Chile</text>
<rect x="636.6" y="1055.8" width="60.7" height="88.9" fill="#06402f" fill-opacity="0.35"/>
<rect x="637.6" y="1056.8" width="58.7" height="87.9" fill="url(#bar)"/>
<text x="683.6" y="1046.8" dx="0 0" transform="rotate(-90 683.6 1046.8)" text-anchor="start" font-family="Liberation Serif, serif" font-weight="bold" font-size="52" fill="#b5c934">30<tspan font-size="36" dx="-3">%</tspan></text>
<g transform="translate(667.0,1176.0)"><circle r="26.7" fill="none" stroke="#d8e4dc" stroke-opacity="0.75" stroke-width="1"/><g clip-path="url(#fc)"><rect x="-22" y="-22.0" width="44" height="22.3" fill="#c4301f"/><rect x="-22" y="0.0" width="44" height="22.3" fill="#2d4985"/><path d="M-22,-15 L2,-3 L22,-3 L22,3 L2,3 L-22,15 Z" fill="#ffffff"/><path d="M-22,-11 L4,-1.8 L22,-1.8 L22,1.8 L4,1.8 L-22,11 Z" fill="#b7cb33"/><path d="M-22,-9 L-9,0 L-22,9 Z" fill="#f4c63d"/><path d="M-22,-6.5 L-12,0 L-22,6.5 Z" fill="#0b2d24"/></g></g>
<text x="676.6" y="1212.0" transform="rotate(-90 676.6 1212.0)" text-anchor="end" font-family="Liberation Serif, serif" font-size="32.8" fill="#ffffff">South Africa</text>
<rect x="703.8" y="1061.7" width="60.7" height="83.0" fill="#06402f" fill-opacity="0.35"/>
<rect x="704.8" y="1062.7" width="58.7" height="82.0" fill="url(#bar)"/>
<text x="750.8" y="1052.7" dx="0 0" transform="rotate(-90 750.8 1052.7)" text-anchor="start" font-family="Liberation Serif, serif" font-weight="bold" font-size="52" fill="#b5c934">28<tspan font-size="36" dx="-3">%</tspan></text>
<g transform="translate(734.1,1176.0)"><circle r="26.7" fill="none" stroke="#d8e4dc" stroke-opacity="0.75" stroke-width="1"/><g clip-path="url(#fc)"><rect x="-22.0" y="-22" width="14.966666666666667" height="44" fill="#0b2d24"/><rect x="-7.333333333333334" y="-22" width="14.966666666666667" height="44" fill="#f4c63d"/><rect x="7.333333333333332" y="-22" width="14.966666666666667" height="44" fill="#c4301f"/></g></g>
<text x="743.8" y="1212.0" transform="rotate(-90 743.8 1212.0)" text-anchor="end" font-family="Liberation Serif, serif" font-size="32.8" fill="#ffffff">Belgium</text>
<rect x="771.0" y="1079.7" width="60.7" height="65.0" fill="#06402f" fill-opacity="0.35"/>
<rect x="772.0" y="1080.7" width="58.7" height="64.0" fill="url(#bar)"/>
<text x="818.0" y="1070.7" dx="0 0" transform="rotate(-90 818.0 1070.7)" text-anchor="start" font-family="Liberation Serif, serif" font-weight="bold" font-size="52" fill="#b5c934">22<tspan font-size="36" dx="-3">%</tspan></text>
<g transform="translate(801.3,1176.0)"><circle r="26.7" fill="none" stroke="#d8e4dc" stroke-opacity="0.75" stroke-width="1"/><g clip-path="url(#fc)"><rect x="-22.0" y="-22" width="14.966666666666667" height="44" fill="#2d4985"/><rect x="-7.333333333333334" y="-22" width="14.966666666666667" height="44" fill="#ffffff"/><rect x="7.333333333333332" y="-22" width="14.966666666666667" height="44" fill="#c4301f"/></g></g>
<text x="811.0" y="1212.0" transform="rotate(-90 811.0 1212.0)" text-anchor="end" font-family="Liberation Serif, serif" font-size="32.8" fill="#ffffff">France</text>
<rect x="838.1" y="1112.5" width="60.7" height="32.2" fill="#06402f" fill-opacity="0.35"/>
<rect x="839.1" y="1113.5" width="58.7" height="31.2" fill="url(#bar)"/>
<text x="885.1" y="1103.5" dx="-3.5 -7.0" transform="rotate(-90 885.1 1103.5)" text-anchor="start" font-family="Liberation Serif, serif" font-weight="bold" font-size="52" fill="#b5c934">11<tspan font-size="36" dx="-6.5">%</tspan></text>
<g transform="translate(868.5,1176.0)"><circle r="26.7" fill="none" stroke="#d8e4dc" stroke-opacity="0.75" stroke-width="1"/><g clip-path="url(#fc)"><rect x="-22" y="-22" width="44" height="44" fill="#c4301f"/><circle cx="-5" cy="0" r="10" fill="#fff"/><circle cx="-2.5" cy="0" r="8" fill="#c4301f"/><polygon points="5.61,-4.28 7.56,-1.71 10.64,-2.65 8.80,0.00 10.64,2.65 7.56,1.71 5.61,4.28 5.54,1.06 2.50,0.00 5.54,-1.06" fill="#ffffff"/></g></g>
<text x="878.1" y="1212.0" transform="rotate(-90 878.1 1212.0)" text-anchor="end" font-family="Liberation Serif, serif" font-size="32.8" fill="#ffffff">Turkey</text>
<rect x="906.2" y="1146.2" width="58.7" height="1.4" fill="#0a2a21"/>
<text x="952.2" y="1138.0" dx="0 -3.5" transform="rotate(-90 952.2 1138.0)" text-anchor="start" font-family="Liberation Serif, serif" font-weight="bold" font-size="52" fill="#0a2820">-1<tspan font-size="36" dx="-6.5">%</tspan></text>
<g transform="translate(935.6,1176.0)"><circle r="26.7" fill="none" stroke="#d8e4dc" stroke-opacity="0.75" stroke-width="1"/><g clip-path="url(#fc)"><rect x="-22" y="-22" width="44" height="44" fill="#c4301f"/><rect x="-22" y="-11" width="44" height="22" fill="#f4c63d"/><rect x="-17" y="-6" width="2" height="11" fill="#a8a8a8"/><rect x="-7" y="-6" width="2" height="11" fill="#a8a8a8"/><path d="M-15,-5 H-7 V3 C-7,6 -9,7 -11,7 C-13,7 -15,6 -15,3 Z" fill="#b5452f"/><rect x="-13" y="-3" width="4" height="4" fill="#d9a53a"/><path d="M-14,-8 Q-11,-11 -8,-8 Z" fill="#b5452f"/></g></g>
<text x="945.2" y="1212.0" transform="rotate(-90 945.2 1212.0)" text-anchor="end" font-family="Liberation Serif, serif" font-size="32.8" fill="#ffffff">Spain</text>
<rect x="973.4" y="1146.2" width="58.7" height="10.5" fill="#0a2a21"/>
<text x="1019.4" y="1138.0" dx="0 0" transform="rotate(-90 1019.4 1138.0)" text-anchor="start" font-family="Liberation Serif, serif" font-weight="bold" font-size="52" fill="#0a2820">-4<tspan font-size="36" dx="-3">%</tspan></text>
<g transform="translate(1002.8,1192.7)"><circle r="26.7" fill="none" stroke="#d8e4dc" stroke-opacity="0.75" stroke-width="1"/><g clip-path="url(#fc)"><rect x="-22.0" y="-22" width="14.966666666666667" height="44" fill="#b7cb33"/><rect x="-7.333333333333334" y="-22" width="14.966666666666667" height="44" fill="#ffffff"/><rect x="7.333333333333332" y="-22" width="14.966666666666667" height="44" fill="#c4301f"/></g></g>
<text x="1012.4" y="1228.7" transform="rotate(-90 1012.4 1228.7)" text-anchor="end" font-family="Liberation Serif, serif" font-size="32.8" fill="#ffffff">Italy</text>
<rect x="1040.6" y="1146.2" width="58.7" height="58.0" fill="#0a2a21"/>
<text x="1086.6" y="1138.0" dx="0 0 0" transform="rotate(-90 1086.6 1138.0)" text-anchor="start" font-family="Liberation Serif, serif" font-weight="bold" font-size="52" fill="#0a2820">-20<tspan font-size="36" dx="-3">%</tspan></text>
<g transform="translate(1069.9,1240.2)"><circle r="26.7" fill="none" stroke="#d8e4dc" stroke-opacity="0.75" stroke-width="1"/><g clip-path="url(#fc)"><rect x="-22" y="-22.0" width="44" height="5.0888888888888895" fill="#2d4985"/><rect x="-22" y="-17.11111111111111" width="44" height="5.0888888888888895" fill="#ffffff"/><rect x="-22" y="-12.222222222222221" width="44" height="5.0888888888888895" fill="#2d4985"/><rect x="-22" y="-7.333333333333334" width="44" height="5.0888888888888895" fill="#ffffff"/><rect x="-22" y="-2.444444444444443" width="44" height="5.0888888888888895" fill="#2d4985"/><rect x="-22" y="2.444444444444443" width="44" height="5.0888888888888895" fill="#ffffff"/><rect x="-22" y="7.333333333333332" width="44" height="5.0888888888888895" fill="#2d4985"/><rect x="-22" y="12.222222222222221" width="44" height="5.0888888888888895" fill="#ffffff"/><rect x="-22" y="17.111111111111114" width="44" height="5.0888888888888895" fill="#2d4985"/><rect x="-22" y="-22" width="22" height="24.444444444444446" fill="#2d4985"/><rect x="-22" y="-12.222222222222221" width="22" height="4.888888888888889" fill="#ffffff"/><rect x="-13.444444444444445" y="-22" width="4.888888888888889" height="24.444444444444446" fill="#ffffff"/></g></g>
<text x="1079.6" y="1276.2" transform="rotate(-90 1079.6 1276.2)" text-anchor="end" font-family="Liberation Serif, serif" font-size="32.8" fill="#ffffff">Greece</text>
<rect x="1107.7" y="1146.2" width="58.7" height="67.0" fill="#0a2a21"/>
<text x="1153.7" y="1138.0" dx="0 0 0" transform="rotate(-90 1153.7 1138.0)" text-anchor="start" font-family="Liberation Serif, serif" font-weight="bold" font-size="52" fill="#0a2820">-23<tspan font-size="36" dx="-3">%</tspan></text>
<g transform="translate(1137.0,1249.2)"><circle r="26.7" fill="none" stroke="#d8e4dc" stroke-opacity="0.75" stroke-width="1"/><g clip-path="url(#fc)"><rect x="-22" y="-22" width="44" height="44" fill="#ffffff"/><circle cx="0" cy="0" r="8.5" fill="#c4301f"/></g></g>
<text x="1146.7" y="1285.2" transform="rotate(-90 1146.7 1285.2)" text-anchor="end" font-family="Liberation Serif, serif" font-size="32.8" fill="#ffffff">Japan</text>
<text x="426.5" y="91" font-family="Liberation Serif, serif" font-size="47.1" fill="#b5c934" stroke="#b5c934" stroke-width="0.6">Which Countries Are Becoming</text>
<text x="429.5 570.5 642 721 758 802.5 892.5 933 1002 1057" y="230.8" font-family="Liberation Serif, serif" font-size="182" fill="#fff" stroke="#fff" stroke-width="1">Wealthier?</text>
<g font-family="Liberation Serif, serif" font-style="italic" font-size="36" letter-spacing="0.4" fill="#b5c934"><text x="229" y="230.8">Percenage</text><text x="229" y="261">change</text><text x="229" y="291.3">in wealth</text></g>
<text x="229" y="327" font-family="Liberation Serif, serif" font-style="italic" font-size="31" fill="#9cbcab">2010–2023</text>
<path d="M212.5,253.5 L187,267.5 L212.5,282 C207.5,274 206.5,261 212.5,253.5 Z" fill="#b5c934"/>
<rect x="459.5" y="292.5" width="641" height="131.5" rx="10" fill="none" stroke="#b9cdc1" stroke-opacity="0.85" stroke-width="1"/>
<g font-family="Liberation Serif, serif" font-style="italic" font-size="26" fill="#fff"><text x="486" y="364">Wealth</text><text x="617" y="357.3">Financial assets</text><text x="830" y="357.3">Real assets</text><text x="1003" y="364.5">Debts</text></g>
<g font-family="Liberation Serif, serif" font-style="italic" font-size="26" fill="#8fb09f"><text x="617" y="383.3">e.g. stocks</text><text x="830" y="383.3">e.g. homes</text></g>
<g font-family="Liberation Serif, serif" font-size="24" fill="#fff" text-anchor="middle"><text x="587.5" y="364">=</text><text x="806.5" y="364">+</text><text x="978" y="363">–</text></g>
<path d="M106.7,158.3 C124,142 140,146 164.2,125 L188.8,140 C166,160 150,156 130,182.5 Z" fill="#b5c934"/><path d="M111.5,158 C127,145 141,148.5 164,129.5 L183,140.5 C163,157 150,154 130.5,177.5 Z" fill="none" stroke="#0f5a40" stroke-width="1.2"/><ellipse cx="147" cy="149" rx="10.5" ry="7" transform="rotate(-28 147 149)" fill="#0f5a40"/><text x="147" y="154" font-family="Liberation Sans, sans-serif" font-weight="bold" font-size="13" fill="#b5c934" text-anchor="middle" transform="rotate(-25 147 149)">$</text><ellipse cx="128.5" cy="159" rx="1.7" ry="2.1" fill="#0f5a40"/><ellipse cx="168.3" cy="139.5" rx="1.7" ry="2.1" fill="#0f5a40"/><path d="M254,91.5 C262,86 270,84.5 280,84.8 L296,87 L305,95.5 C294,99 288,101 280,105.5 Z" fill="#b5c934"/><path d="M259,91.5 C265,88 271,87 280,87.5 L294,89.5 L299,95.5 C290,98 286,100 280,102.5 Z" fill="none" stroke="#0f5a40" stroke-width="1"/><ellipse cx="280.5" cy="92.5" rx="2.4" ry="1.4" transform="rotate(20 280.5 92.5)" fill="#0f5a40"/><path d="M302,96 L314,96.5 L347,111.5 L331,111 L316,106 Z" fill="#b5c934"/><path d="M307,98 L314,98.5 L338,109.5 L331,109 L318,104.5 Z" fill="none" stroke="#0f5a40" stroke-width="0.9"/><path d="M58,227 C64,210 72,200 82.5,196.5 L95,204 C92,210 90,216 88.5,223.5 C78,223 68,224 58,227 Z" fill="#b5c934"/><path d="M62,223.5 C67,210 74,203 82,200 L91,205 C89,210 87.5,215 86.5,220.5 C78,220.5 70,221.5 62,223.5 Z" fill="none" stroke="#0f5a40" stroke-width="1"/><path d="M84,197 C92,196 100,196 107,196.5 C118,199 126,203 133,209.5 C125,213 118,218 112,224 C106,216 100,209 95,205 Z" fill="#b5c934"/><path d="M91,198.8 C97,198.3 102,198.5 107,199 C116,201.5 122,204.5 127.5,209.5 C121,212.5 116,216 112.5,220 C107,213.5 102,207.5 97,203.5 Z" fill="none" stroke="#0f5a40" stroke-width="1"/><ellipse cx="77.5" cy="212" rx="2.2" ry="1.6" fill="#0f5a40"/><ellipse cx="114" cy="205" rx="2.2" ry="1.6" fill="#0f5a40"/><path d="M80,200 C84,200 88,202 91,204 C88,205 84,204 81,203 Z" fill="#0f5a40"/><path d="M443,330 L459.5,307.7 C466,311 474,310 481,307.5 C482,313 481.5,318 480.5,322 C470,327 455,330 443,330 Z" fill="#b5c934"/><path d="M447,327.5 L460.5,310 C466,313 473,312.5 478.5,310.5 C479,314 478.5,317.5 477.5,320.5 C468,324.5 456,327 447,327.5 Z" fill="none" stroke="#0f5a40" stroke-width="1"/><ellipse cx="463" cy="320" rx="2" ry="2.4" fill="#0f5a40"/><path d="M478.5,293.5 L499.5,273 C503,280 503.5,286 502.5,291 C497,300 490,310 483.5,320 C482,311 480.5,301 478.5,293.5 Z" fill="#b5c934"/><path d="M482,294 L497.5,278 C500,283 500.5,287 499.5,290.5 C495,298 490,305 485,313 C484,306 483,300 482,294 Z" fill="none" stroke="#0f5a40" stroke-width="1"/><ellipse cx="492.5" cy="295.5" rx="2.3" ry="2.8" fill="#0f5a40"/><path d="M31.8,246.5 C38,244.5 45,242.8 51,242 C60,246 70,251 92,253 L92,256 L42,256 L42,253.3 C38,252.5 34.5,250 31.8,246.5 Z" fill="#b5c934"/><path d="M33.4,257.8 L83,258.4 L33.4,259.6 Z" fill="#135843"/>
<path d="M37,1440 L53,1413 C56,1408 62,1405.5 68,1407.5 L75.2,1411 L82.5,1407.5 C88.5,1405.5 94.5,1408 97.5,1413 L114,1440 Z" fill="#436a5e"/><circle cx="57.8" cy="1445.5" r="21.6" fill="#0b372d" stroke="#436a5e" stroke-width="3.2"/><circle cx="93" cy="1445.5" r="21.6" fill="#0b372d" stroke="#436a5e" stroke-width="3.2"/><path d="M57.5,1467.5 L92,1467.5 L93,1462 L60,1462 Z" fill="#436a5e"/><ellipse cx="75" cy="1451.5" rx="20.5" ry="17" fill="#436a5e"/><path d="M82,1438 L88,1434 L89,1442 Z" fill="#436a5e"/><ellipse cx="96.5" cy="1452.5" rx="6" ry="6.5" fill="#436a5e"/><path d="M71,1438.5 L80,1438.5" stroke="#0b372d" stroke-width="1.2"/><path d="M55,1451 C52,1449 49,1450 50,1453 C51,1456 54,1454 53,1452" fill="none" stroke="#436a5e" stroke-width="1"/>
<g font-family="Liberation Serif, serif" font-style="italic" font-size="21" fill="#8da89b"><text x="138" y="1429.3">Source: UBS Global Wealth Report 2024</text><text x="138" y="1457">Select economies only. All values measured in USD.</text></g>
<rect x="0" y="1499.5" width="1200" height="66" fill="#43a47f"/>
<g stroke="#fff" stroke-width="1.4" stroke-linejoin="round"><path d="M48.5,1515.5 C47.5,1513 48.5,1512 51,1512 L67.5,1512 L58.5,1520 L48.8,1516.5 Z" fill="#e9c81c"/><path d="M67.5,1512 L81.5,1512 C84.5,1512 85.5,1514 84.5,1516.5 L82.5,1521.5 L69.5,1528 L63.5,1528.5 L58.5,1520 Z" fill="#b3d52e"/><path d="M48.8,1516.5 L58.5,1520 L63.5,1528.5 L58.5,1537 Z" fill="#8ac6e6"/><path d="M82.5,1521.5 L74.5,1535 L69.5,1528 Z" fill="#4fc561"/><path d="M63.5,1528.5 L69.5,1528 L74.5,1535 L69,1542 C67.5,1544 64.5,1544 63,1542 L58.5,1537 Z" fill="#1ea27b"/></g>
<text x="89.5" y="1538.3" font-family="Liberation Sans, sans-serif" font-weight="bold" font-size="35" letter-spacing="-0.9" fill="#fff">voronoi</text>
<text x="99" y="1552.7" font-family="Liberation Sans, sans-serif" font-weight="bold" font-size="7.6" letter-spacing="1.3" fill="#fff">BY VISUAL CAPITALIST</text>
<rect x="234.2" y="1514.8" width="1.2" height="35" fill="#ffffff" fill-opacity="0.45"/>
<text x="255.5" y="1537.8" font-family="Liberation Sans, sans-serif" font-weight="bold" font-size="18" letter-spacing="0.45" fill="#fff">Where Data Tells the Story</text>
<rect x="911.5" y="1512.7" width="118.5" height="39.2" rx="5.5" fill="#231f20"/><g transform="translate(929.5,1531) scale(1.12) translate(-926,-1530)"><path d="M928.5,1523.2 C930,1521.5 930.5,1520 930.3,1518.5 C928.8,1518.6 927.2,1519.6 926.4,1521 C925.6,1522.3 925.4,1523.8 925.6,1525 C927,1525 928,1524.3 928.5,1523.2 Z M931.7,1531.3 C931.7,1528.7 933.8,1527.5 933.9,1527.4 C932.7,1525.7 930.9,1525.5 930.3,1525.5 C928.7,1525.3 927.3,1526.4 926.5,1526.4 C925.7,1526.4 924.5,1525.5 923.2,1525.5 C921.5,1525.6 919.9,1526.5 919.1,1528 C917.3,1531.1 918.6,1535.7 920.3,1538.2 C921.1,1539.4 922.1,1540.8 923.4,1540.7 C924.7,1540.7 925.2,1539.9 926.7,1539.9 C928.3,1539.9 928.7,1540.7 930,1540.7 C931.4,1540.7 932.2,1539.4 933,1538.2 C934,1536.8 934.4,1535.5 934.4,1535.4 C934.4,1535.4 931.7,1534.4 931.7,1531.3 Z" fill="#fff"/></g><text x="946.5" y="1526.3" font-family="Liberation Sans, sans-serif" font-weight="bold" font-size="8.4" fill="#fff">Download on the</text><text x="945.5" y="1543" font-family="Liberation Sans, sans-serif" font-size="17" fill="#fff" stroke="#fff" stroke-width="0.3" letter-spacing="-0.3">App Store</text><rect x="1048.5" y="1512.7" width="117.5" height="39.2" rx="5.5" fill="#231f20"/><path d="M1056,1520.5 L1067,1531.8 L1056,1543 C1055.6,1542.7 1055.4,1542.2 1055.4,1541.6 L1055.4,1521.9 C1055.4,1521.3 1055.6,1520.8 1056,1520.5 Z" fill="#2ab1e8"/><path d="M1056,1520.5 C1056.5,1520.1 1057.2,1520.1 1058,1520.5 L1071,1528 L1067,1531.8 Z" fill="#2fc47a"/><path d="M1056,1543 C1056.5,1543.4 1057.2,1543.4 1058,1543 L1071,1535.5 L1067,1531.8 Z" fill="#ea3c4b"/><path d="M1071,1528 L1075.5,1530.6 C1076.7,1531.3 1076.7,1532.3 1075.5,1533 L1071,1535.5 L1067,1531.8 Z" fill="#f8c21a"/><text x="1084" y="1526" font-family="Liberation Sans, sans-serif" font-weight="bold" font-size="7.2" fill="#fff">GET IT ON</text><text x="1083.5" y="1542.5" font-family="Liberation Sans, sans-serif" font-size="16" fill="#fff" stroke="#fff" stroke-width="0.3" letter-spacing="-0.95">Google Play</text>
</svg>
</div></body></html>
